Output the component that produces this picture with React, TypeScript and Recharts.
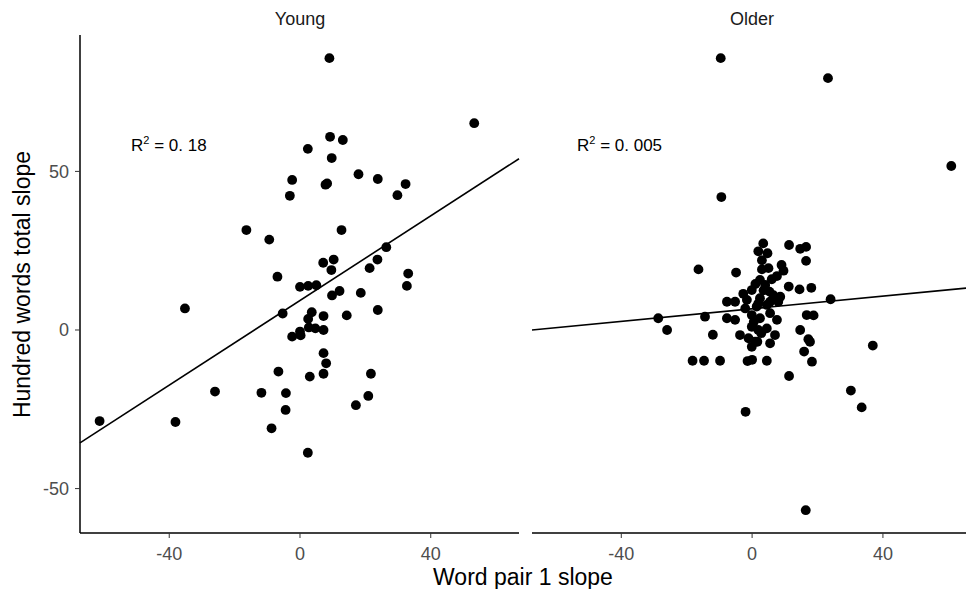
import { ScatterChart, Scatter, XAxis, YAxis, ReferenceLine } from 'recharts';

// Young group: word pair 1 slope (x) vs hundred words total slope (y)
const youngX = [9.0, 53.3, 9.2, 13.1, 2.4, 9.7, -2.4, 17.9, 23.8, 32.3, 7.8, 8.3, -3.1, 29.8, -16.4, -9.4, 12.7, 26.4, 10.3, 7.1, 23.7, 21.3, 9.6, 33.1, -6.9, 32.7, 0, 2.5, 5.0, 12.1, 9.8, 18.6, -35.2, -5.3, 3.6, 7.2, 14.3, 23.8, 2.5, 0, 2.7, 4.7, 7.2, -2.4, 0.2, 7.2, 8.0, -6.6, 3.0, 7.2, 21.7, -26.0, -11.8, -4.3, 20.9, 17.1, -4.4, -61.3, -38.1, -8.7, 2.4];
const youngY = [85.7, 65.2, 60.9, 59.9, 57.1, 54.2, 47.3, 49.1, 47.6, 46.0, 45.8, 46.2, 42.3, 42.5, 31.5, 28.5, 31.5, 26.1, 22.2, 21.2, 22.2, 19.5, 18.9, 17.8, 16.8, 13.9, 13.6, 13.9, 14.1, 12.3, 10.9, 11.7, 6.8, 5.2, 5.6, 4.4, 4.6, 6.3, 3.5, -0.5, 0.8, 0.5, 0, -2.1, -1.7, -7.3, -10.5, -13.1, -14.7, -13.8, -13.8, -19.4, -19.8, -19.9, -20.8, -23.7, -25.2, -28.7, -29.0, -31.0, -38.7];

// Older group
const olderX = [-9.6, 23.2, 60.9, -9.4, -16.4, -4.9, 3.4, 1.9, 4.7, 11.3, 14.7, 16.5, 16.5, 9.6, 3.0, 5.0, 7.6, 2.4, 4.0, 11.2, 14.5, 18.1, -0.1, 5.3, 8.6, -2.7, -7.7, -5.2, -1.6, 2.4, 1.4, 4.5, 8.0, 24.0, -28.7, -26.0, -14.4, -12.0, -18.2, -14.7, -9.8, -1.4, 0.0, 4.5, 18.3, 11.3, 30.2, 33.5, -2.0, 16.4, 36.9, 16.7, 18.8, 14.7, 17.2, 17.7, 15.9, 7.0, 5.5, 4.5, 7.6, 5.5, 2.4, -0.1, -2.1, -7.7, -5.2, 1.9, 5.5, -0.1, 1.9, -3.7, -1.1, 0.9, -0.1, 1.6, 9.0, 3.0, 6.0, 0.5, 2.8, 3.5, 1.0, 6.5];
const olderY = [85.7, 79.4, 51.7, 41.9, 19.1, 18.1, 27.3, 24.8, 24.2, 26.8, 25.6, 26.2, 21.8, 18.7, 19.1, 19.5, 17.0, 15.8, 14.2, 13.7, 12.8, 13.3, 12.6, 12.1, 10.5, 11.4, 8.9, 8.9, 9.5, 10.0, 7.4, 7.9, 8.9, 9.7, 3.7, 0, 4.2, -1.5, -9.7, -9.7, -9.7, -9.8, -9.4, -9.7, -10.0, -14.5, -19.1, -24.4, -25.8, -56.8, -4.9, 4.7, 4.6, 0, -2.9, -3.7, -6.8, -1.6, -4.2, 0.5, 3.2, 5.3, 3.7, 4.7, 6.8, 3.7, 3.2, 8.4, 8.9, 1.0, 0, -1.6, -2.6, -3.7, -5.3, -3.7, 20.5, 22.0, 16.0, 2.5, -1.0, 12.5, 14.5, 11.0];

const xTicks = [-40, 0, 40];
const yTicks = [-50, 0, 50];
const yDomain = [-64, 93];
const youngXDomain = [-67.3, 67];
const olderXDomain = [-67.3, 65.4];
// fitted lines: [intercept, slope]
const youngFit = [9.3, 0.667];
const olderFit = [6.7, 0.0995];
const panelTitles = ['Young', 'Older'];
const rSquared = ['0. 18', '0. 005'];

const font = 'Liberation Sans, Arial, sans-serif';
const tickStyle = { fill: '#4d4d4d', fontSize: 18, fontFamily: font };

const toPoints = (xs: number[], ys: number[]) => xs.map((x, i) => ({ x, y: ys[i] }));

const Dot = (p: any) => <circle cx={p.cx} cy={p.cy} r={4.9} fill="#000" />;

const fitSegment = (fit: number[], dom: number[]) =>
  dom.map((x) => ({ x, y: fit[0] + fit[1] * x }));

const Panel = ({ xs, ys, fit, xDomain, showY, width, left }: any) => (
  <div style={{ position: 'absolute', left, top: 0 }}>
    <ScatterChart
      width={width}
      height={589}
      margin={{ top: 35, right: showY ? 11 : 0, bottom: 26, left: showY ? 0 : 12 }}
    >
      <XAxis
        type="number"
        dataKey="x"
        domain={xDomain}
        ticks={xTicks}
        allowDataOverflow
        height={30}
        tick={tickStyle}
        tickSize={5}
        tickMargin={9}
        axisLine={{ stroke: '#000', strokeWidth: 1.5 }}
        tickLine={{ stroke: '#333' }}
      />
      <YAxis
        type="number"
        dataKey="y"
        domain={yDomain}
        ticks={yTicks}
        allowDataOverflow
        hide={!showY}
        width={80}
        tick={tickStyle}
        tickSize={5}
        tickMargin={6}
        axisLine={{ stroke: '#000', strokeWidth: 1.5 }}
        tickLine={{ stroke: '#333' }}
      />
      <Scatter data={toPoints(xs, ys)} shape={Dot} isAnimationActive={false} />
      <ReferenceLine
        segment={fitSegment(fit, xDomain)}
        stroke="#000"
        strokeWidth={1.6}
        ifOverflow="visible"
      />
    </ScatterChart>
  </div>
);

const textBase: any = { position: 'absolute', fontFamily: font, whiteSpace: 'nowrap', lineHeight: 1 };

const RLabel = ({ left, value }: any) => (
  <div style={{ ...textBase, left, top: 137, fontSize: 17, color: '#000' }}>
    R<span style={{ fontSize: 11, position: 'relative', top: -7 }}>2</span> = {value}
  </div>
);

export default function App() {
  return (
    <div style={{ position: 'absolute', left: 0, top: 0, width: 966, height: 589, background: '#fff', overflow: 'hidden' }}>
      <Panel xs={youngX} ys={youngY} fit={youngFit} xDomain={youngXDomain} showY width={530} left={0} />
      <Panel xs={olderX} ys={olderY} fit={olderFit} xDomain={olderXDomain} showY={false} width={446} left={520} />

      <div style={{ ...textBase, left: 200, width: 200, top: 10, textAlign: 'center', fontSize: 18, color: '#1a1a1a' }}>{panelTitles[0]}</div>
      <div style={{ ...textBase, left: 652, width: 200, top: 10, textAlign: 'center', fontSize: 18, color: '#1a1a1a' }}>{panelTitles[1]}</div>

      <RLabel left={131} value={rSquared[0]} />
      <RLabel left={577} value={rSquared[1]} />

      <div style={{ ...textBase, left: 373, width: 300, top: 566, textAlign: 'center', fontSize: 23, color: '#000' }}>Word pair 1 slope</div>
      <div
        style={{
          ...textBase,
          left: 22 - 175,
          top: 285 - 12,
          width: 350,
          textAlign: 'center',
          fontSize: 23,
          color: '#000',
          transform: 'rotate(-90deg)',
        }}
      >
        Hundred words total slope
      </div>
    </div>
  );
}
